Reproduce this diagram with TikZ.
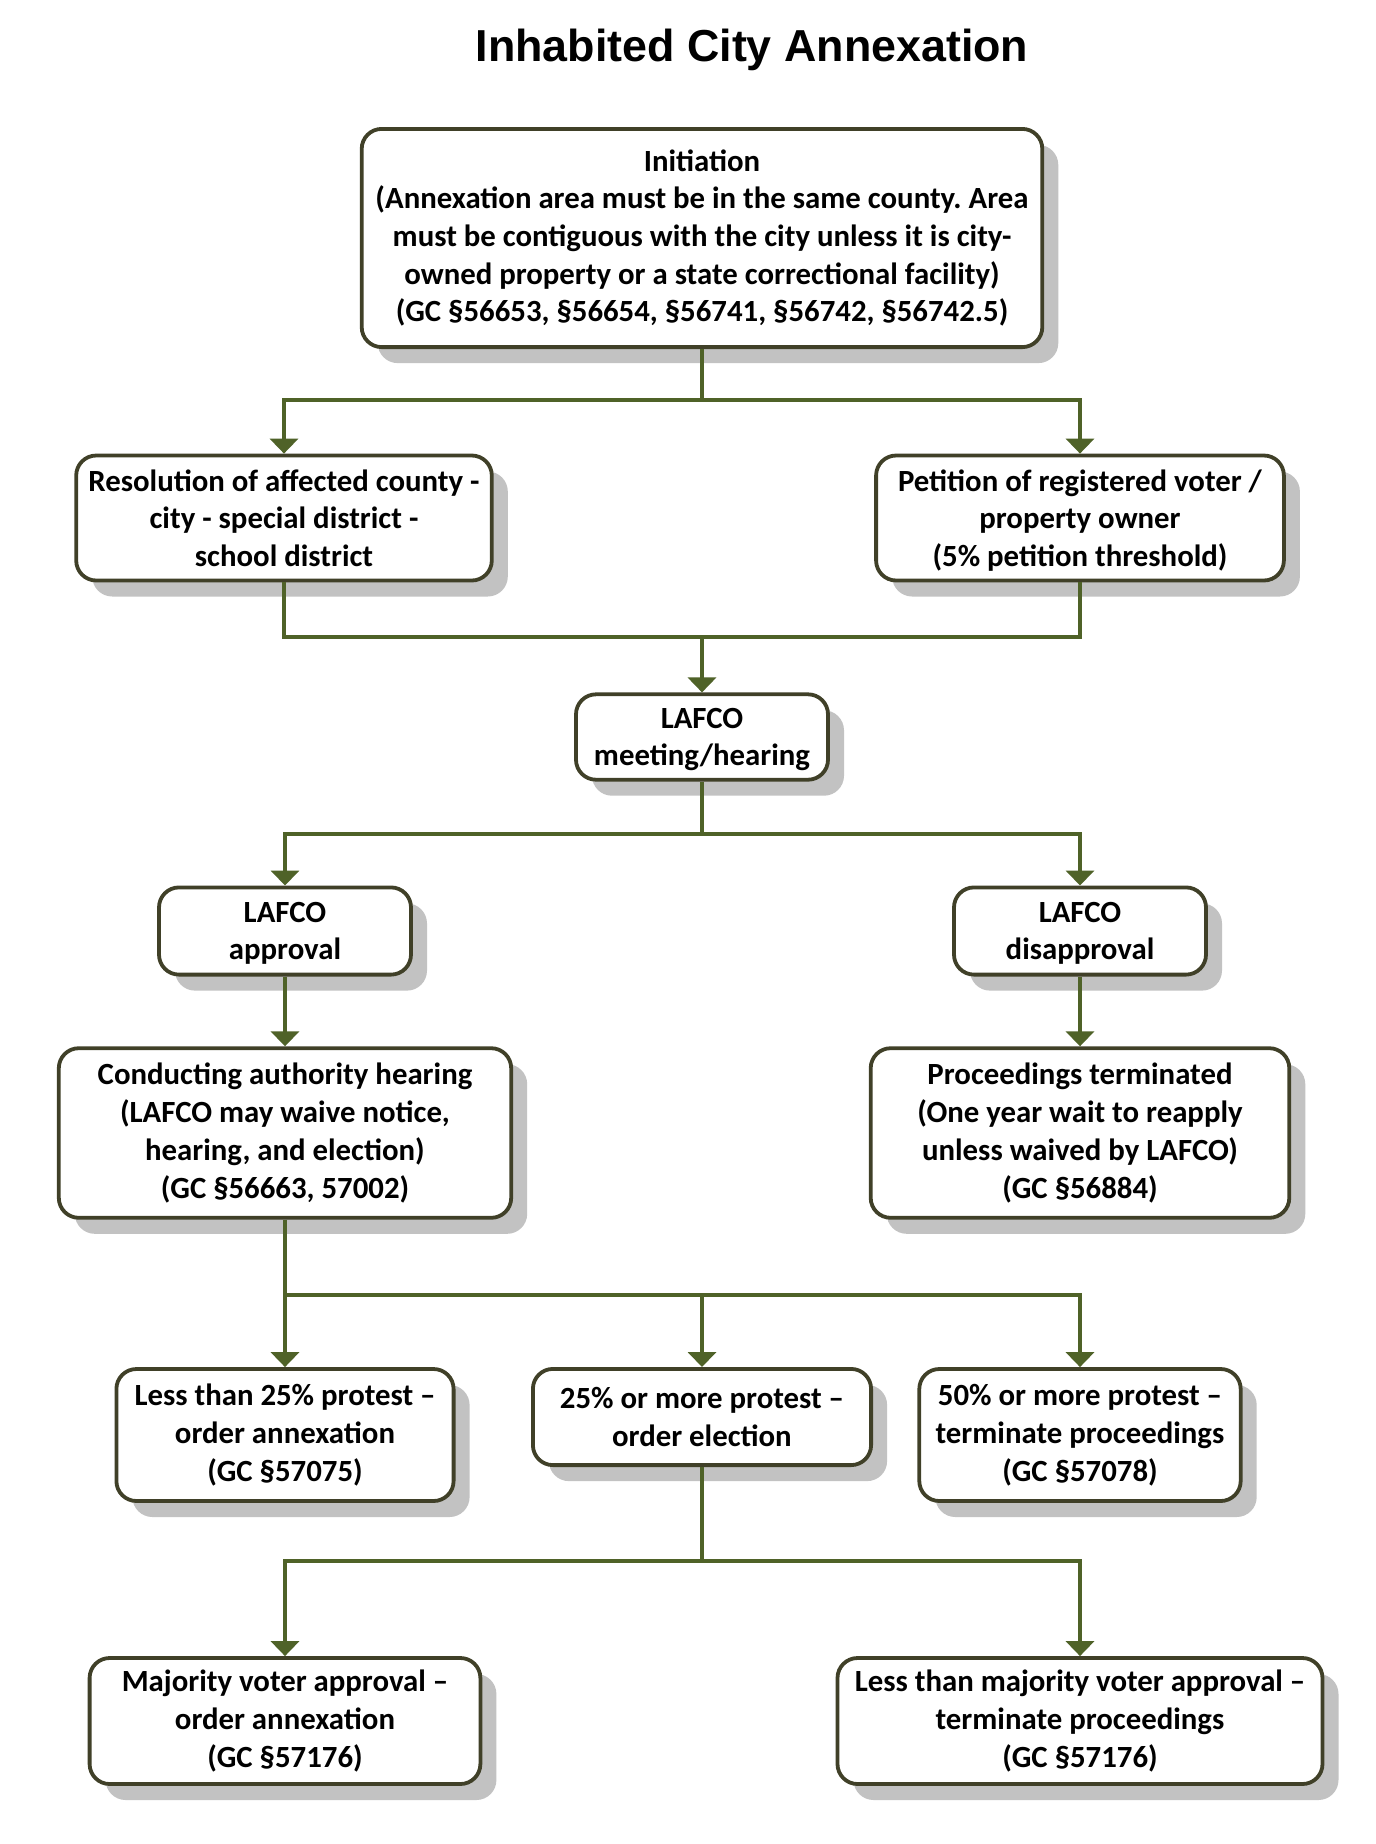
\documentclass[tikz,border=0pt]{standalone}
\usepackage{fontspec}
\setmainfont{Carlito}
\newfontfamily\titlefont{Liberation Sans}
\usepackage{tikz}
\usetikzlibrary{shapes,calc,arrows.meta,shadows}

\definecolor{olivelink}{RGB}{79,98,40}
\definecolor{boxline}{RGB}{64,64,40}

\begin{document}
\frenchspacing
\begin{tikzpicture}[x=0.5pt,y=-0.5pt,
  stepbox/.style={draw=boxline,line width=1.9pt,rounded corners=10pt,fill=white,
    align=center,inner sep=0pt,font=\fontsize{15.4}{18.85}\selectfont\bfseries,
    drop shadow={shadow xshift=8pt,shadow yshift=-8pt,fill=black!24,opacity=1}},
  lowtext/.style={text depth=0pt},
  link/.style={draw=olivelink,line width=2.2pt},
  arr/.style={link,-{Triangle[width=14pt,length=7.5pt]}}]
\fill[white] (0,0) rectangle (1376,1844);
\useasboundingbox (0,0) rectangle (1376,1844);

\node[anchor=base,font=\titlefont\fontsize{22.4}{26}\selectfont\bfseries] (title) at (752,61.5) {Inhabited City Annexation};

\node[stepbox,minimum width=340.3pt,minimum height=109.1pt] (init) at (702,238)
  {Initiation\\(Annexation area must be in the same county. Area\\must be contiguous with the city unless it is city-\\owned property or a state correctional facility)\\(GC §56653, §56654, §56741, §56742, §56742.5)};

\node[stepbox,minimum width=207.8pt,minimum height=62.5pt] (res) at (284,518)
  {Resolution of affected county -\\city - special district -\\school district};
\node[stepbox,lowtext,minimum width=203.9pt,minimum height=62.5pt] (pet) at (1080,518)
  {Petition of registered voter /\\property owner\\(5\% petition threshold)};

\node[stepbox,lowtext,minimum width=126pt,minimum height=42.7pt] (meet) at (702,737) {LAFCO\\meeting/hearing};

\node[stepbox,lowtext,minimum width=126pt,minimum height=43.6pt] (appr) at (285,931) {LAFCO\\approval};
\node[stepbox,lowtext,minimum width=126pt,minimum height=43.6pt] (disa) at (1080,931) {LAFCO\\disapproval};

\node[stepbox,minimum width=226.2pt,minimum height=84.8pt] (cond) at (285,1133)
  {Conducting authority hearing\\(LAFCO may waive notice,\\hearing, and election)\\(GC §56663, 57002)};
\node[stepbox,minimum width=209.3pt,minimum height=84.8pt] (term) at (1080,1133)
  {Proceedings terminated\\(One year wait to reapply\\unless waived by LAFCO)\\(GC §56884)};

\node[stepbox,minimum width=168.6pt,minimum height=66pt] (less) at (285,1435)
  {Less than 25\% protest –\\order annexation\\(GC §57075)};
\node[stepbox,minimum width=169.1pt,minimum height=48.1pt] (more) at (702,1417)
  {25\% or more protest –\\order election};
\node[stepbox,minimum width=160.7pt,minimum height=66pt] (half) at (1080,1435)
  {50\% or more protest –\\terminate proceedings\\(GC §57078)};

\node[stepbox,minimum width=195.4pt,minimum height=63pt] (maj) at (285,1721)
  {Majority voter approval –\\order annexation\\(GC §57176)};
\node[stepbox,minimum width=242.5pt,minimum height=63pt] (lmaj) at (1080,1721)
  {Less than majority voter approval –\\terminate proceedings\\(GC §57176)};

\coordinate (j1) at (702,400);
\coordinate (j2) at (702,637);
\coordinate (j3) at (702,834);
\coordinate (j4) at (702,1295);
\coordinate (j5) at (702,1561);

\draw[link] (init.south) -- (j1);
\draw[arr] (j1) -| (res.north);
\draw[arr] (j1) -| (pet.north);

\draw[link] (res.south) |- (j2) -| (pet.south);
\draw[arr] (j2) -- (meet.north);

\draw[link] (meet.south) -- (j3);
\draw[arr] (j3) -| (appr.north);
\draw[arr] (j3) -| (disa.north);

\draw[arr] (appr.south) -- (cond.north);
\draw[arr] (disa.south) -- (term.north);

\draw[link] (cond.south) |- (j4);
\draw[arr] (j4) -| (less.north);
\draw[arr] (j4) -- (more.north);
\draw[arr] (j4) -| (half.north);

\draw[link] (more.south) -- (j5);
\draw[arr] (j5) -| (maj.north);
\draw[arr] (j5) -| (lmaj.north);
\end{tikzpicture}
\end{document}
